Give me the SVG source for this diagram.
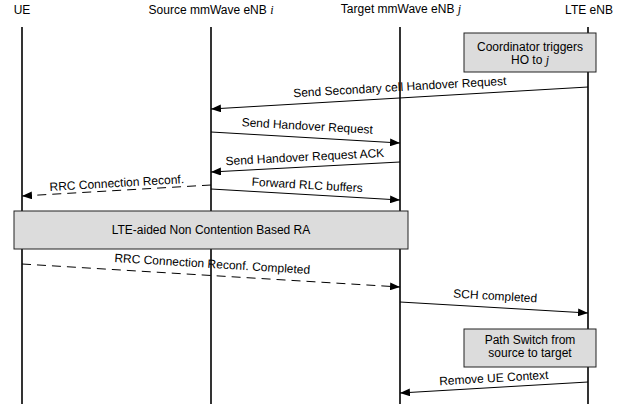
<svg xmlns="http://www.w3.org/2000/svg" width="636" height="408" viewBox="0 0 636 408">
<style>
text{font-family:"Liberation Sans",Arial,sans-serif;font-size:12px;fill:#000;text-anchor:middle}
.m{font-family:"Liberation Serif","Times New Roman",serif;font-style:italic}
.life{stroke:#000;stroke-width:1.6;fill:none}
.msg{stroke:#000;stroke-width:1;fill:none;marker-end:url(#ah)}
.dash{stroke-dasharray:9,6}
.box{fill:#dcdcdc;stroke:#222;stroke-width:1}
</style>
<defs>
<marker id="ah" viewBox="0 0 10 8" refX="10" refY="4" markerWidth="10" markerHeight="8" markerUnits="userSpaceOnUse" orient="auto">
<path d="M0,0 L10,4 L0,8 Z" fill="#000"/>
</marker>
</defs>
<rect width="636" height="408" fill="#fff"/>
<g id="ue"><text x="22" y="14">UE</text><line class="life" x1="22" y1="27" x2="22" y2="404"/></g>
<g id="source"><text x="211" y="14">Source mmWave eNB <tspan class="m">i</tspan></text><line class="life" x1="211" y1="27" x2="211" y2="404"/></g>
<g id="target"><text x="401" y="13">Target mmWave eNB <tspan class="m">j</tspan></text><line class="life" x1="400" y1="27" x2="400" y2="404"/></g>
<g id="lte"><text x="589" y="14">LTE eNB</text><line class="life" x1="588" y1="27" x2="588" y2="404"/></g>
<g id="coordinator"><rect class="box" x="464" y="33" width="132" height="39"/><text x="530" y="51">Coordinator triggers</text><text x="530" y="64">HO to <tspan class="m">j</tspan></text></g>
<g id="ra"><rect class="box" x="14" y="211" width="394" height="38"/><text x="211" y="234">LTE-aided Non Contention Based RA</text></g>
<g id="pathswitch"><rect class="box" x="464" y="329" width="132" height="38"/><text x="530" y="344">Path Switch from</text><text x="530" y="357">source to target</text></g>
<g id="connectors">
<line class="msg" x1="588" y1="87" x2="211" y2="109"/>
<text transform="translate(400,91) rotate(-3.3)">Send Secondary cell Handover Request</text>
<line class="msg" x1="211" y1="132" x2="400" y2="143"/>
<text transform="translate(307,130) rotate(3.3)">Send Handover Request</text>
<line class="msg" x1="400" y1="162" x2="211" y2="172"/>
<text transform="translate(305,161) rotate(-3)">Send Handover Request ACK</text>
<line class="msg dash" x1="211" y1="185" x2="22" y2="196"/>
<text transform="translate(117,187) rotate(-3.3)">RRC Connection Reconf.</text>
<line class="msg" x1="211" y1="189" x2="400" y2="200"/>
<text transform="translate(307,189) rotate(3.3)">Forward RLC buffers</text>
<line class="msg dash" x1="22" y1="264" x2="400" y2="287"/>
<text transform="translate(212,268) rotate(3.5)">RRC Connection Reconf. Completed</text>
<line class="msg" x1="400" y1="302" x2="588" y2="313"/>
<text transform="translate(495,300) rotate(3.3)">SCH completed</text>
<line class="msg" x1="588" y1="382" x2="400" y2="393"/>
<text transform="translate(494,382) rotate(-3.3)">Remove UE Context</text>
</g>
</svg>
